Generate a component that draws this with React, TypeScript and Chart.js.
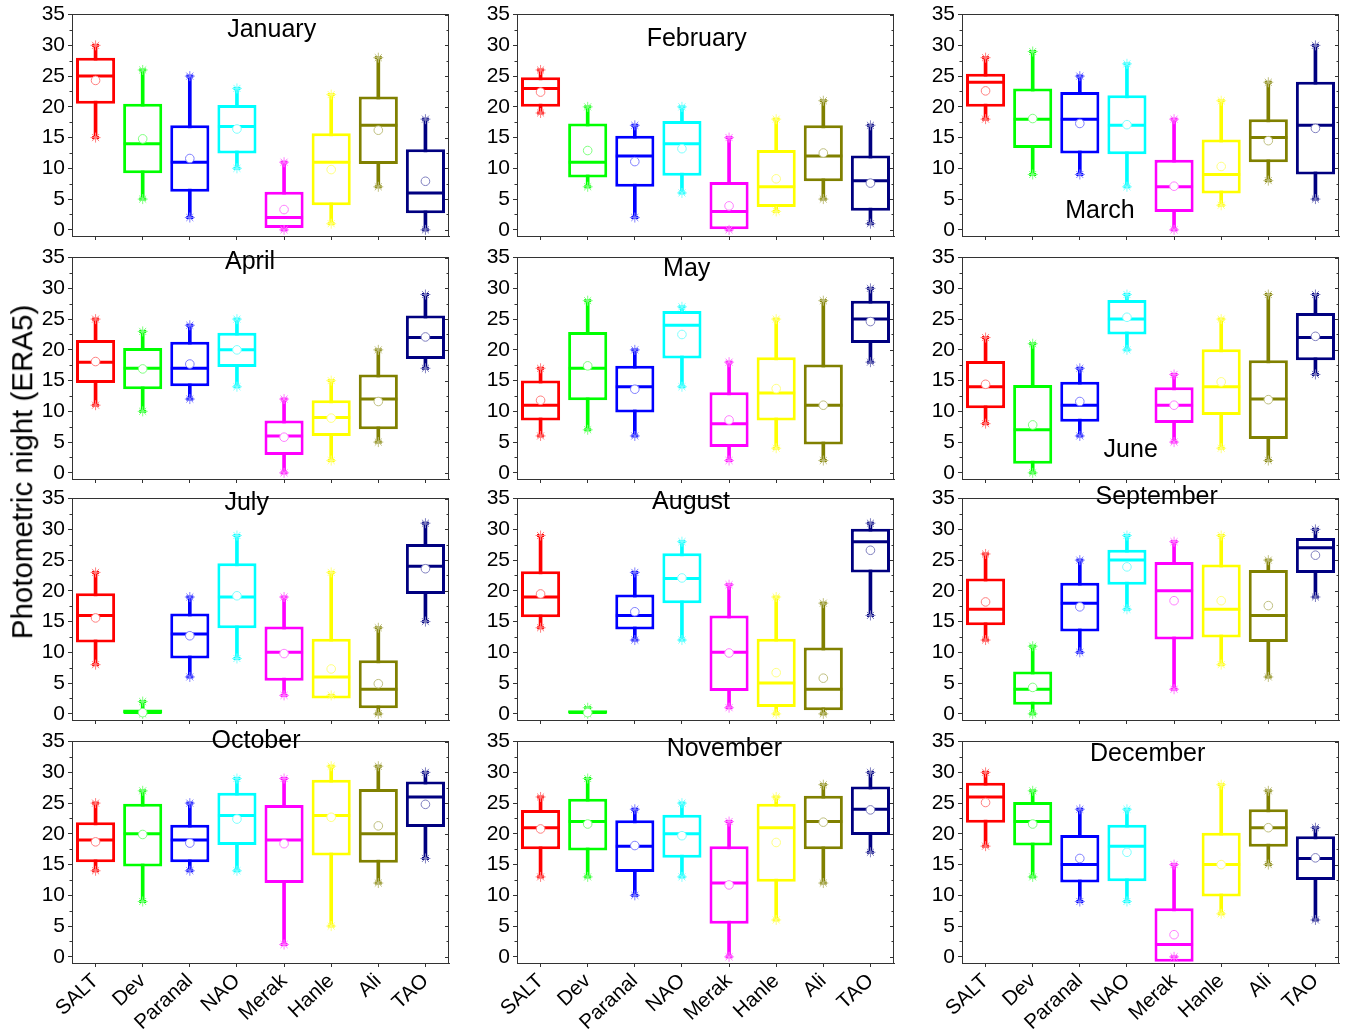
import React, { useEffect, useRef } from 'react';
import { Chart, registerables } from 'chart.js';

Chart.register(...registerables);

const FONT = "'Liberation Sans', Arial, Helvetica, sans-serif";

const stations = ['SALT', 'Dev', 'Paranal', 'NAO', 'Merak', 'Hanle', 'Ali', 'TAO'];
const months = ['January', 'February', 'March', 'April', 'May', 'June', 'July', 'August', 'September', 'October', 'November', 'December'];
const yTicks = [0, 5, 10, 15, 20, 25, 30, 35];

const boxColors = ['#ff0000', '#00ff00', '#0000ff', '#00ffff', '#ff00ff', '#ffff00', '#808000', '#000080'];
const markerColors = ['#ff8080', '#80ff80', '#8080ff', '#80ffff', '#ff80ff', '#ffff80', '#c0c080', '#8080c0'];

// lower whisker end, per month (rows) and station (columns)
const whiskerLow = [
  [15, 5, 2, 10, 0, 1, 7, 0],
  [19, 7, 2, 6, 0, 3, 5, 1],
  [18, 9, 9, 7, 0, 4, 8, 5],
  [11, 10, 12, 14, 0, 2, 5, 17],
  [6, 7, 6, 14, 2, 4, 2, 18],
  [8, 0, 6, 20, 5, 4, 2, 16],
  [8, 0, 6, 9, 3, 3, 0, 15],
  [14, 0, 12, 12, 1, 0, 0, 16],
  [12, 0, 10, 17, 4, 8, 6, 19],
  [14, 9, 14, 14, 2, 5, 12, 16],
  [13, 13, 10, 13, 0, 6, 12, 17],
  [18, 13, 9, 9, 0, 7, 15, 6],
];
const quartile1 = [
  [20.5, 9.2, 6.2, 12.4, 0.3, 4, 10.7, 2.7],
  [20, 8.5, 7, 8.8, 0, 3.7, 7.9, 3.1],
  [20, 13.3, 12.4, 12.3, 2.9, 5.9, 11, 9],
  [14.6, 13.6, 14.1, 17.2, 2.9, 6, 7.1, 18.5],
  [8.5, 11.8, 9.8, 18.6, 4.2, 8.5, 4.6, 21.1],
  [10.5, 1.5, 8.3, 22.5, 8.1, 9.4, 5.5, 18.3],
  [11.6, 0, 9, 13.9, 5.4, 2.5, 0.9, 19.5],
  [15.7, 0, 13.7, 18, 3.7, 1.1, 0.6, 23],
  [14.4, 1.5, 13.4, 21, 12.1, 12.4, 11.7, 22.9],
  [15.4, 14.7, 15.4, 18.2, 12, 16.5, 15.3, 21.1],
  [17.5, 17.3, 13.8, 16.1, 5.4, 12.2, 17.5, 19.8],
  [21.8, 18.1, 12.1, 12.3, -0.8, 9.8, 17.9, 12.5],
];
const medians = [
  [25, 14, 11, 16.8, 2, 11, 17, 6],
  [23, 11, 12, 14, 3, 7, 12, 8],
  [24, 18, 18, 17, 7, 9, 15, 17],
  [18, 17, 17, 20, 6, 9, 12, 22],
  [11, 17, 14, 24, 8, 13, 11, 25],
  [14, 7, 11, 25, 11, 14, 12, 22],
  [16, 0.2, 13, 19, 10, 6, 4, 24],
  [19, 0.2, 16, 22, 10, 5, 4, 28],
  [17, 4, 18, 25, 20, 17, 16, 27],
  [19, 20, 19, 23, 19, 23, 20, 26],
  [21, 22, 18, 20, 12, 21, 22, 24],
  [26, 22, 15, 18, 2, 15, 21, 16],
];
const quartile3 = [
  [28, 20.5, 17, 20.3, 6.2, 15.7, 21.7, 13.1],
  [24.8, 17.3, 15.3, 17.7, 7.8, 13, 17, 12.1],
  [25.4, 23, 22.4, 21.9, 11.4, 14.7, 18, 24.1],
  [21.6, 20.3, 21.3, 22.8, 8.5, 11.8, 16, 25.6],
  [15, 22.9, 17.4, 26.3, 13.1, 18.8, 17.6, 28],
  [18.2, 14.3, 14.8, 28.1, 13.9, 20.1, 18.3, 26],
  [19.6, 0.7, 16.3, 24.5, 14.2, 12.2, 8.7, 27.6],
  [23.2, 0.6, 19.4, 26.1, 16, 12.2, 10.8, 30.1],
  [22, 6.9, 21.3, 26.7, 24.7, 24.3, 23.4, 28.6],
  [21.9, 24.9, 21.5, 26.7, 24.7, 28.8, 27.3, 28.5],
  [23.9, 25.7, 22.2, 23.1, 18, 24.9, 26.2, 27.7],
  [28.3, 25.2, 19.8, 21.5, 7.9, 20.2, 24, 19.6],
];
const whiskerHigh = [
  [30, 26, 25, 23, 11, 22, 28, 18],
  [26, 20, 17, 20, 15, 18, 21, 17],
  [28, 29, 25, 27, 18, 21, 24, 30],
  [25, 23, 24, 25, 12, 15, 20, 29],
  [17, 28, 20, 27, 18, 25, 28, 30],
  [22, 21, 17, 29, 16, 25, 29, 29],
  [23, 2, 19, 29, 19, 23, 14, 31],
  [29, 1, 23, 28, 21, 19, 18, 31],
  [26, 11, 25, 29, 28, 29, 25, 30],
  [25, 27, 25, 29, 29, 31, 31, 30],
  [26, 29, 24, 25, 22, 26, 28, 30],
  [30, 27, 24, 24, 15, 28, 27, 21],
];
const means = [
  [24.3, 14.8, 11.6, 16.4, 3.3, 9.8, 16.2, 7.9],
  [22.4, 12.9, 11.1, 13.2, 3.9, 8.3, 12.5, 7.6],
  [22.6, 18.1, 17.3, 17.1, 7.1, 10.3, 14.5, 16.5],
  [18.1, 16.9, 17.7, 20, 5.8, 8.9, 11.6, 22.1],
  [11.8, 17.4, 13.6, 22.5, 8.6, 13.7, 11, 24.6],
  [14.4, 7.8, 11.6, 25.3, 11, 14.8, 11.9, 22.2],
  [15.6, 0.2, 12.7, 19.2, 9.8, 7.3, 4.9, 23.6],
  [19.5, 0.2, 16.6, 22.1, 9.9, 6.7, 5.8, 26.6],
  [18.2, 4.3, 17.4, 23.9, 18.4, 18.4, 17.6, 25.8],
  [18.7, 19.9, 18.5, 22.4, 18.4, 22.7, 21.3, 24.8],
  [20.8, 21.6, 18.1, 19.7, 11.7, 18.6, 21.9, 23.9],
  [25.1, 21.6, 16, 17, 3.6, 15, 21, 16.1],
];

// layout
const COL_LEFT = [72, 517, 962];
const ROW_TOP = [14, 257, 498, 741];
const PLOT_W = 377;
const PLOT_H = 222;
const PAD_TOP = 20;
const AXIS_W = 42;
const PAD_RIGHT = 10;
const titlePos = [
  [271.7, 28], [696.7, 37], [1100, 208.5],
  [250, 260], [686.7, 266.5], [1130.7, 448],
  [246.7, 501], [691, 499.5], [1156.7, 494.5],
  [256, 739], [724.3, 747], [1147.7, 751.5],
];

const framePlugin = {
  id: 'frame',
  afterDraw(chart: any) {
    const { ctx, chartArea: a, scales } = chart;
    const y = scales.y;
    ctx.save();
    ctx.strokeStyle = '#333';
    ctx.lineWidth = 1;
    ctx.beginPath();
    ctx.moveTo(a.left, a.top + 0.5);
    ctx.lineTo(a.right, a.top + 0.5);
    ctx.moveTo(a.right - 0.5, a.top);
    ctx.lineTo(a.right - 0.5, a.bottom);
    for (let v = 0; v <= 35; v += 2.5) {
      const py = Math.round(y.getPixelForValue(v)) + 0.5;
      const major = v % 5 === 0;
      ctx.moveTo(a.right, py);
      ctx.lineTo(a.right - (major ? 4 : 2.5), py);
      if (!major) {
        ctx.moveTo(a.left, py);
        ctx.lineTo(a.left - 2.5, py);
      }
    }
    ctx.stroke();
    ctx.restore();
  },
};

function Panel({ m }: { m: number }) {
  const ref = useRef<HTMLCanvasElement>(null);
  const col = m % 3;
  const row = Math.floor(m / 3);
  const bottomRow = row === 3;
  const xh = bottomRow ? 80 : 22;
  const W = AXIS_W + PLOT_W + PAD_RIGHT;
  const H = PAD_TOP + PLOT_H + xh;

  useEffect(() => {
    const boxes = quartile1[m].map((v, i) => [v, quartile3[m][i]]);
    const whiskers = whiskerLow[m].map((v, i) => [v, whiskerHigh[m][i]]);
    const chart = new Chart(ref.current as HTMLCanvasElement, {
      type: 'bar',
      data: {
        labels: stations,
        datasets: [
          {
            type: 'line', data: means[m], showLine: false, pointStyle: 'circle',
            pointRadius: 4.3, pointBackgroundColor: '#ffffff', pointBorderColor: markerColors,
            pointBorderWidth: 1, order: 0,
          } as any,
          {
            type: 'line', data: medians[m], showLine: false, pointStyle: 'line',
            pointRadius: 19, pointBorderColor: boxColors, pointBorderWidth: 3, order: 1,
          } as any,
          {
            type: 'line', data: whiskerHigh[m], showLine: false, pointStyle: 'star',
            pointRadius: 5, pointBorderColor: markerColors, pointBorderWidth: 1, order: 2,
          } as any,
          {
            type: 'line', data: whiskerLow[m], showLine: false, pointStyle: 'star',
            pointRadius: 5, pointBorderColor: markerColors, pointBorderWidth: 1, order: 2,
          } as any,
          {
            type: 'line', data: whiskerHigh[m], showLine: false, pointStyle: 'line',
            pointRadius: 3.5, pointBorderColor: boxColors, pointBorderWidth: 3, order: 3,
          } as any,
          {
            type: 'line', data: whiskerLow[m], showLine: false, pointStyle: 'line',
            pointRadius: 3.5, pointBorderColor: boxColors, pointBorderWidth: 3, order: 3,
          } as any,
          {
            type: 'bar', data: boxes, backgroundColor: '#ffffff', borderColor: boxColors,
            borderWidth: 3, borderSkipped: false, barPercentage: 0.83, categoryPercentage: 1,
            grouped: false, order: 4,
          } as any,
          {
            type: 'bar', data: whiskers, backgroundColor: boxColors, borderWidth: 0,
            barThickness: 3, grouped: false, order: 5,
          } as any,
        ],
      },
      options: {
        responsive: false,
        animation: false,
        events: [],
        layout: { autoPadding: false, padding: { top: PAD_TOP, right: PAD_RIGHT, left: 0, bottom: 0 } },
        plugins: { legend: { display: false }, tooltip: { enabled: false }, title: { display: false } },
        scales: {
          x: {
            type: 'category',
            offset: true,
            grid: { display: true, drawOnChartArea: false, drawTicks: true, tickLength: 4, color: '#333', offset: false },
            border: { display: true, color: '#333', width: 1 },
            ticks: {
              display: bottomRow, minRotation: 43, maxRotation: 43, autoSkip: false, padding: 2,
              color: '#000', font: { size: 20.5, family: FONT },
            },
            afterFit: (s: any) => { s.height = xh; },
          },
          y: {
            type: 'linear',
            min: -1,
            max: 35.1,
            afterBuildTicks: (s: any) => { s.ticks = yTicks.map((v) => ({ value: v })); },
            grid: { display: true, drawOnChartArea: false, drawTicks: true, tickLength: 4, color: '#333' },
            border: { display: true, color: '#333', width: 1 },
            ticks: { padding: 3, color: '#000', font: { size: 21, family: FONT } },
            afterFit: (s: any) => { s.width = AXIS_W; },
          },
        },
      } as any,
      plugins: [framePlugin],
    });
    return () => chart.destroy();
  }, [m]);

  return (
    <canvas
      ref={ref}
      width={W}
      height={H}
      style={{
        position: 'absolute',
        left: COL_LEFT[col] - AXIS_W,
        top: ROW_TOP[row] - PAD_TOP,
        width: W,
        height: H,
      }}
    />
  );
}

export default function App() {
  return (
    <div style={{ position: 'absolute', left: 0, top: 0, width: 1357, height: 1035, background: '#fff', fontFamily: FONT }}>
      {months.map((_, m) => <Panel key={m} m={m} />)}
      {months.map((name, m) => (
        <div
          key={name}
          style={{
            position: 'absolute', left: titlePos[m][0], top: titlePos[m][1],
            transform: 'translate(-50%, -50%)', fontSize: 25, lineHeight: 1, color: '#000', whiteSpace: 'nowrap',
          }}
        >
          {name}
        </div>
      ))}
      <div
        style={{
          position: 'absolute', left: 22, top: 472, transform: 'translate(-50%, -50%) rotate(-90deg)',
          fontSize: 29.5, lineHeight: 1, color: '#000', whiteSpace: 'nowrap',
        }}
      >
        Photometric night (ERA5)
      </div>
    </div>
  );
}
